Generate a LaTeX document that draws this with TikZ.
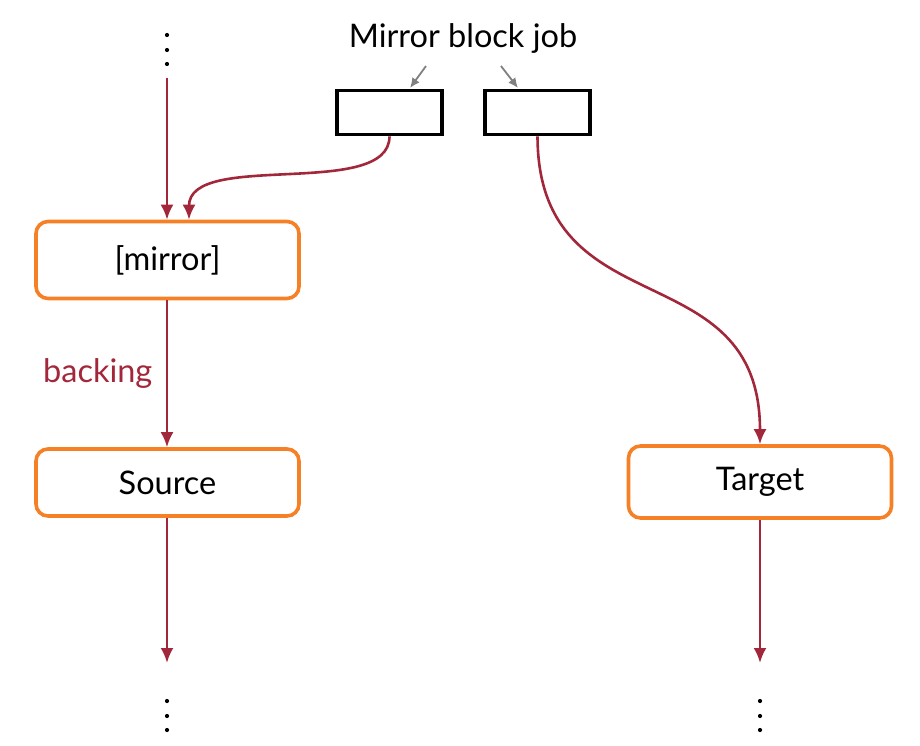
\documentclass[tikz,border=0pt]{standalone}
\usepackage{fontspec}
\setmainfont{Lato}
\usetikzlibrary{arrows.meta}
\definecolor{linkred}{HTML}{A3273A}
\definecolor{boxorange}{HTML}{F58025}
\begin{document}
\begin{tikzpicture}[x=1pt,y=-1pt,
  bdsnode/.style={draw=boxorange,line width=3.6pt,rounded corners=12pt,fill=white,
     minimum width=263pt,inner sep=0pt,font=\fontsize{32.5}{38}\selectfont},
  jobbox/.style={draw=black,line width=3.8pt,minimum width=105pt,minimum height=44pt,inner sep=0pt},
  link/.style={draw=linkred,line width=2.6pt,-{Latex[length=15pt,width=13pt]}},
  pointer/.style={draw=gray,line width=1.8pt,-{Latex[length=10pt,width=9pt]}},
  txt/.style={font=\fontsize{32.5}{38}\selectfont}]
\useasboundingbox (0,0) rectangle (920,746);
% nodes
\node[bdsnode,minimum height=77pt] (mirror) at (167.5,260) {[mirror]};
\node[bdsnode,minimum height=67pt] (source) at (167.5,482.5) {Source};
\node[bdsnode,minimum height=72pt] (target) at (760,482) {Target};
\node[jobbox] (job1) at (389.5,112.5) {};
\node[jobbox] (job2) at (537.5,112.5) {};
\node[txt] (title) at (463,38) {Mirror block job};
% dots
\foreach \y in {35,50,64}{\fill (167,\y) circle (2.1pt);}
\foreach \y in {701,716,730}{\fill (167,\y) circle (2.1pt); \fill (760,\y) circle (2.1pt);}
\coordinate (topin) at (167,78);
\coordinate (srcout) at (167,663);
\coordinate (tgtout) at (760,663);
% connectors
\draw[link] (topin) -- (mirror.north -| topin);
\draw[link] (job1.south) .. controls (389.5,200) and (189,150) .. (mirror.north -| 189,0);
\draw[link] (mirror.south -| 167,0) -- node[left=10pt,text=linkred,txt] {backing} (source.north -| 167,0);
\draw[link] (source.south -| 167,0) -- (srcout);
\draw[link] (job2.south) .. controls (538,330) and (760,250) .. (target.north);
\draw[link] (target.south) -- (tgtout);
% pointers
\coordinate (p1) at (426,66);
\coordinate (p2) at (501,66);
\draw[pointer] (p1) -- (410,88);
\draw[pointer] (p2) -- (518,88);
\end{tikzpicture}
\end{document}
